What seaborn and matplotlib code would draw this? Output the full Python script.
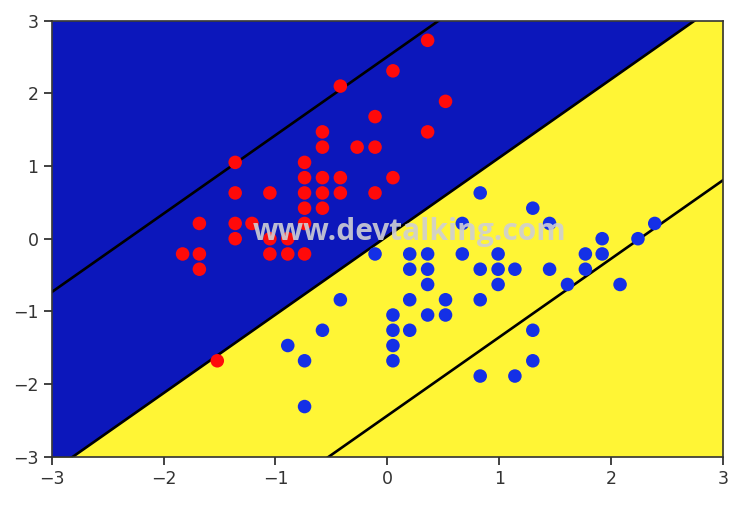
import numpy as np
import matplotlib
matplotlib.use("Agg")
import matplotlib.pyplot as plt
import pandas as pd
import seaborn as sns

# standardized iris points (sepal length, sepal width)
red_x = [-0.58, -0.89, -1.21, -1.36, -0.74, -0.11, -1.36, -0.74, -1.68, -0.89,
         -0.11, -1.05, -1.05, -1.83, 0.52, 0.36, 0.36, -0.58, -0.11, -0.58,
         -1.36, -0.58, -0.74, -0.42, -0.42, -1.05, -0.42, 0.05, -0.74, 0.05,
         -1.68, -0.58, -0.74, -1.52, -1.68, -1.36, -0.27, -0.74]
red_y = [0.84, -0.21, 0.21, 0.00, 1.05, 1.68, 0.63, 0.63, -0.42, 0.00,
         1.26, 0.63, -0.21, -0.21, 1.89, 2.73, 1.47, 1.47, 0.63, 1.26,
         1.05, 0.42, -0.21, 0.84, 0.63, 0.00, 2.10, 2.31, 0.21, 0.84,
         -0.21, 0.63, 0.84, -1.68, 0.21, 0.21, 1.26, 0.42]

blue_x = [2.39, 1.45, 2.24, 0.05, 1.61, 0.36, 1.30, -0.89, 1.77, -0.42,
          -0.74, 0.67, 0.83, 0.99, 0.20, 1.92, 0.20, 0.52, 1.14, 0.20,
          0.67, 0.99, 1.30, 1.45, 1.77, 2.08, 1.92, 0.83, 0.36, 0.05,
          0.83, -0.11, 0.83, 1.30, 0.05, 0.05, 0.99, 0.52, -0.74, 0.20,
          0.36, 0.36, 1.14, -0.58]
blue_y = [0.21, 0.21, 0.00, -1.68, -0.63, -0.63, 0.42, -1.47, -0.42, -0.84,
          -2.31, -0.21, -1.89, -0.42, -0.42, 0.00, -0.21, -0.84, -1.89, -1.26,
          0.21, -0.63, -1.26, -0.42, -0.21, -0.63, -0.21, -0.42, -1.05, -1.47,
          -0.84, -0.21, 0.63, -1.68, -1.26, -1.05, -0.21, -1.05, -1.68, -0.84,
          -0.21, -0.42, -0.42, -1.26]

# decision line y = slope*x + intercept, margins at +/- margin
slope = 1.08
intercept = 0.035
margin = 2.47

df = pd.DataFrame({
    "x": red_x + blue_x,
    "y": red_y + blue_y,
    "cls": ["0"] * len(red_x) + ["1"] * len(blue_x),
})

fig, ax = plt.subplots(figsize=(7.48, 5.12), dpi=100)
fig.subplots_adjust(left=51.7 / 748, right=723 / 748,
                    top=1 - 20.7 / 512, bottom=1 - 456.7 / 512)

xs = np.linspace(-3, 3, 200)
boundary = slope * xs + intercept
ax.fill_between(xs, boundary, 3, color="#0c17bb", linewidth=0)
ax.fill_between(xs, -3, boundary, color="#fff535", linewidth=0)
for off in (-margin, 0, margin):
    ax.plot(xs, slope * xs + intercept + off, color="black", linewidth=1.9)

sns.scatterplot(data=df, x="x", y="y", hue="cls",
                palette={"0": "#ff0a0a", "1": "#1430e6"},
                s=95, edgecolor="none", legend=False, ax=ax, zorder=3)

# watermark
ax.text(0.2, 0.09, "www.devtalking.com", fontsize=21.5, fontweight="bold",
        family=["Open Sans", "DejaVu Sans"], color="#cfcfd4", alpha=0.9,
        ha="center", va="center", zorder=4)

ax.set_xlim(-3, 3)
ax.set_ylim(-3, 3)
ax.set_xlabel("")
ax.set_ylabel("")
ax.tick_params(labelsize=12.5, colors="#333333", length=6, width=1.3)
for sp in ax.spines.values():
    sp.set_color("#333333")
    sp.set_linewidth(1.2)

fig.savefig("out.png", dpi=100)
